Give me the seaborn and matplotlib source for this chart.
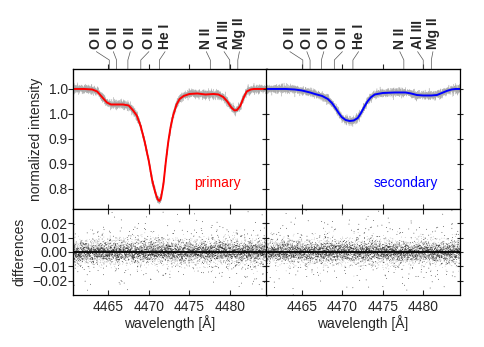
import matplotlib
matplotlib.use('Agg')
import matplotlib.pyplot as plt
import matplotlib.transforms as mtransforms
import numpy as np
import pandas as pd
import seaborn as sns

# model profiles (wavelength in Angstrom, normalized flux)
wave_primary = [4460.5, 4462.0, 4463.0, 4463.6, 4464.2, 4464.8, 4465.3, 4466.0, 4466.8,
                4467.5, 4468.0, 4468.5, 4469.0, 4469.5, 4470.0, 4470.4, 4470.8, 4471.1,
                4471.3, 4471.5, 4471.8, 4472.1, 4472.4, 4472.7, 4473.0, 4473.4, 4473.8,
                4474.3, 4475.0, 4476.0, 4477.0, 4478.0, 4478.6, 4479.2, 4479.7, 4480.2,
                4480.6, 4480.9, 4481.3, 4481.7, 4482.1, 4482.6, 4483.0, 4484.6]
flux_primary = [1.000, 1.000, 0.999, 0.995, 0.984, 0.973, 0.969, 0.969, 0.969,
                0.967, 0.958, 0.947, 0.925, 0.893, 0.855, 0.818, 0.792, 0.779,
                0.776, 0.782, 0.810, 0.855, 0.895, 0.925, 0.947, 0.968, 0.980,
                0.986, 0.990, 0.991, 0.989, 0.990, 0.989, 0.984, 0.975, 0.963,
                0.957, 0.958, 0.966, 0.982, 0.995, 0.999, 1.000, 1.000]

wave_secondary = [4460.5, 4463.0, 4464.1, 4465.0, 4466.0, 4466.6, 4467.5, 4468.2, 4468.7,
                  4469.1, 4469.5, 4469.9, 4470.4, 4470.9, 4471.4, 4471.9, 4472.3, 4472.7,
                  4473.1, 4473.5, 4474.0, 4475.0, 4476.5, 4477.8, 4478.5, 4479.2, 4480.0,
                  4481.0, 4481.7, 4482.3, 4482.9, 4483.5, 4484.0, 4484.6]
flux_secondary = [1.000, 1.000, 0.999, 0.997, 0.993, 0.990, 0.986, 0.980, 0.972,
                  0.963, 0.953, 0.944, 0.938, 0.936, 0.937, 0.942, 0.952, 0.964,
                  0.975, 0.983, 0.989, 0.992, 0.993, 0.993, 0.991, 0.988, 0.987,
                  0.987, 0.988, 0.992, 0.996, 0.999, 1.000, 1.000]

line_names = ['O II', 'O II', 'O II', 'O II', 'He I', 'N II', 'Al III', 'Mg II']
line_waves = [4465.1, 4466.0, 4467.4, 4469.0, 4471.3, 4477.6, 4480.0, 4481.0]
label_waves = [4463.5, 4465.6, 4467.7, 4470.0, 4472.0, 4477.1, 4479.3, 4481.2]

wave_ticks = [4465, 4470, 4475, 4480]
intensity_ticks = [0.80, 0.85, 0.90, 0.95, 1.00]
intensity_ticklabels = ['0.8', '0.9', '0.9', '1.0', '1.0']
diff_ticks = [-0.02, -0.01, 0.0, 0.01, 0.02]
diff_ticklabels = ['\u22120.02', '\u22120.01', '0.00', '0.01', '0.02']

sns.set_style('white')
plt.rcParams['font.family'] = ['Liberation Sans', 'DejaVu Sans']
plt.rcParams['font.size'] = 10

# noise texture: the individual observed pixels cannot be read off the image
rng = np.random.default_rng(3)
n_exp = 5
grid = np.linspace(4460.5, 4484.6, 1100)

fig = plt.figure(figsize=(4.85, 3.47), dpi=100)
panels = [
    (0.1495, wave_primary, flux_primary, 'red', 'primary', 0.866),
    (0.5485, wave_secondary, flux_secondary, 'blue', 'secondary', 0.887),
]

for i, (left, wv, fx, col, name, name_x) in enumerate(panels):
    ax = fig.add_axes([left, 0.3977, 0.4, 0.4035])
    axr = fig.add_axes([left, 0.1499, 0.4, 0.2478])

    model = np.interp(grid, wv, fx)
    obs = pd.DataFrame({
        'wave': np.tile(grid, n_exp),
        'flux': np.tile(model, n_exp) + rng.normal(0, 0.004, grid.size * n_exp),
        'exp': np.repeat(np.arange(n_exp), grid.size),
    })
    sns.lineplot(data=obs, x='wave', y='flux', units='exp', estimator=None,
                 color='#a8a8a8', lw=0.4, alpha=0.6, ax=ax, legend=False)
    sns.lineplot(x=wv, y=fx, color=col, lw=1.4, ax=ax)

    ax.set_xlim(4460.55, 4484.55)
    ax.set_ylim(0.76, 1.04)
    ax.set_xticks(wave_ticks)
    ax.set_xticklabels([])
    ax.set_xlabel('')
    ax.set_yticks(intensity_ticks)
    ax.text(name_x, 0.186, name, color=col, fontsize=10, ha='right', va='center',
            transform=ax.transAxes)

    trans = mtransforms.blended_transform_factory(ax.transData, ax.transAxes)
    for nm, lw_, lab in zip(line_names, line_waves, label_waves):
        ax.plot([lab, lw_, lw_], [1.124, 1.064, 1.0], color='#555555', lw=0.5,
                transform=trans, clip_on=False)
        ax.text(lab, 1.145, nm, rotation=90, ha='center', va='bottom',
                fontweight='bold', fontsize=10, transform=trans)

    # residuals: gray and black dots, a few scattered outliers
    n_gray, n_black, n_out = grid.size * 3, grid.size * 2, 500
    res = pd.DataFrame({
        'wave': np.concatenate([np.tile(grid, 3), np.tile(grid, 2),
                                rng.uniform(4460.6, 4484.5, n_out)]),
        'diff': np.concatenate([rng.normal(0, 0.0045, n_gray),
                                rng.normal(0, 0.003, n_black),
                                rng.normal(0, 0.011, n_out)]),
        'kind': ['a'] * n_gray + ['b'] * n_black + ['b'] * n_out,
    })
    sns.scatterplot(data=res, x='wave', y='diff', hue='kind',
                    palette={'a': '#b4b4b4', 'b': '#202020'}, s=0.35, linewidth=0,
                    ax=axr, legend=False)
    axr.axhline(0, color='black', lw=1.3)
    axr.set_xlim(4460.55, 4484.55)
    axr.set_ylim(-0.03, 0.03)
    axr.set_xticks(wave_ticks)
    axr.set_yticks(diff_ticks)
    axr.set_xlabel('wavelength [\u00c5]', fontsize=10, labelpad=1)

    for a in (ax, axr):
        for sp in a.spines.values():
            sp.set_color('black')
            sp.set_linewidth(0.9)
        a.tick_params(axis='both', which='both', direction='in', length=3.5, width=0.8,
                      top=True, right=True, bottom=True, left=True, labelsize=10)
    ax.tick_params(axis='x', top=False)
    secx = ax.secondary_xaxis('top')
    secx.set_xticks(wave_ticks)
    secx.set_xticklabels([])
    secx.tick_params(direction='out', length=3.5, width=0.8)

    if i == 0:
        ax.set_yticklabels(intensity_ticklabels)
        ax.set_ylabel('normalized intensity', fontsize=10)
        axr.set_yticklabels(diff_ticklabels)
        axr.set_ylabel('differences', fontsize=10)
        ax.tick_params(axis='y', left=False)
        axr.tick_params(axis='y', left=False)
        for a, tk in ((ax, intensity_ticks), (axr, diff_ticks)):
            sy = a.secondary_yaxis('left')
            sy.set_yticks(tk)
            sy.set_yticklabels([])
            sy.tick_params(direction='out', length=3.5, width=0.8)
    else:
        ax.set_yticklabels([])
        axr.set_yticklabels([])
        ax.set_ylabel('')
        axr.set_ylabel('')
        ax.tick_params(axis='y', direction='inout', length=5)
        axr.tick_params(axis='y', direction='inout', length=5)

fig.savefig('out.png', dpi=100)
plt.close(fig)
